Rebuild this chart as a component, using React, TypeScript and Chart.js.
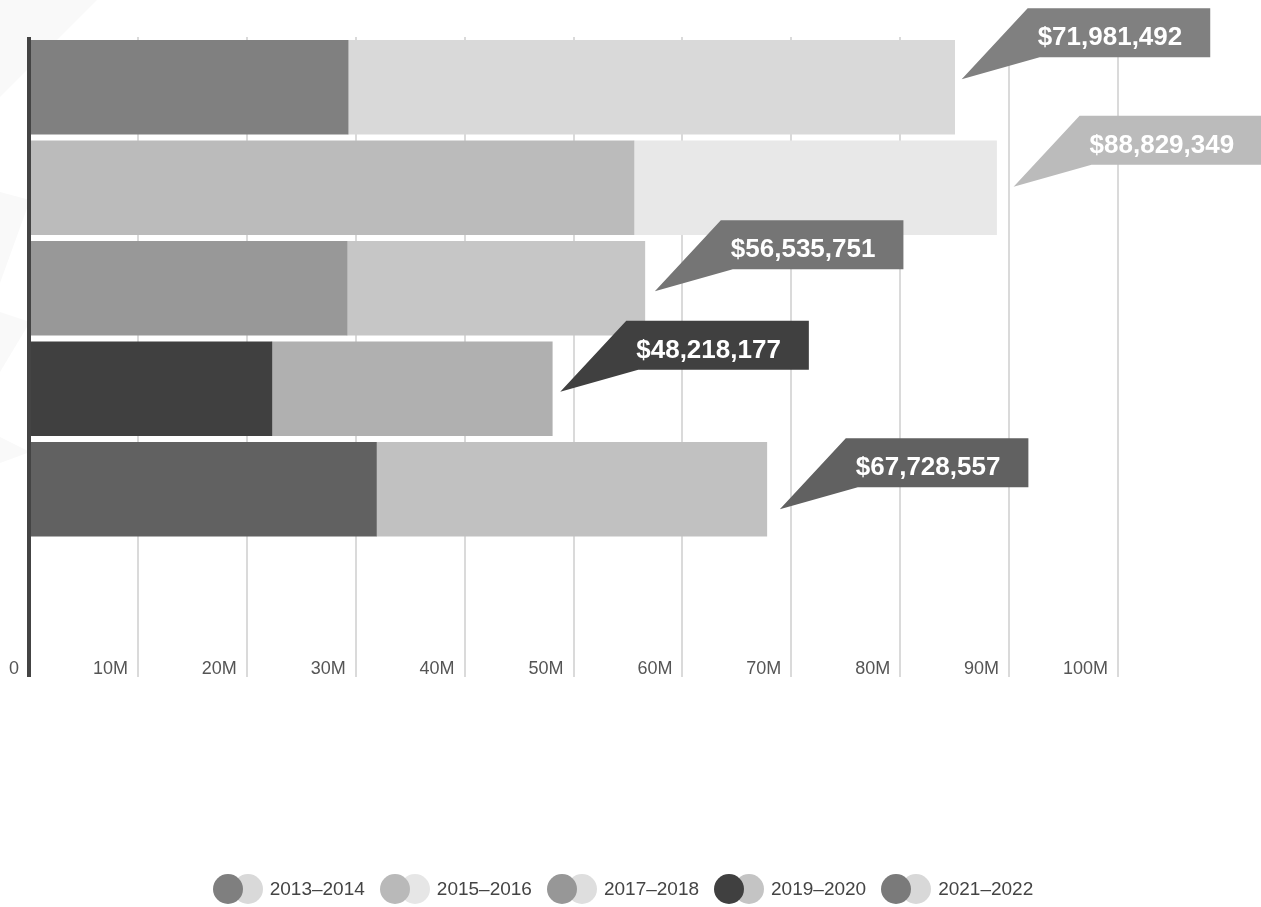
import React, { useEffect, useRef } from 'react';
import { Chart, registerables } from 'chart.js';

Chart.register(...registerables);

// ---------- data ----------
const rowLabels = ['2013–2014', '2015–2016', '2017–2018', '2019–2020', '2021–2022'];
const firstSegment = [29.3e6, 55.55e6, 29.2e6, 22.3e6, 31.9e6];
const secondSegment = [55.7e6, 33.3e6, 27.35e6, 25.75e6, 35.85e6];
const calloutLabels = ['$71,981,492', '$88,829,349', '$56,535,751', '$48,218,177', '$67,728,557'];
const xTickValues = [0, 10e6, 20e6, 30e6, 40e6, 50e6, 60e6, 70e6, 80e6, 90e6, 100e6];
const xTickLabels = ['0', '10M', '20M', '30M', '40M', '50M', '60M', '70M', '80M', '90M', '100M'];

// ---------- styles ----------
const firstColors = ['#808080', '#bbbbbb', '#989898', '#404040', '#616161'];
const secondColors = ['#d9d9d9', '#e8e8e8', '#c6c6c6', '#b0b0b0', '#c1c1c1'];
const calloutColors = ['#808080', '#bbbbbb', '#757575', '#404040', '#616161'];
const legendDark = ['#7f7f7f', '#b9b9b9', '#979797', '#404040', '#7a7a7a'];
const legendLight = ['#d9d9d9', '#e6e6e6', '#dedede', '#c4c4c4', '#d8d8d8'];
const calloutNudge = [[7, -8], [17, -1], [10, 3], [8, 3], [13, 20]];

const FONT = '"Liberation Sans", Arial, Helvetica, sans-serif';

const decorPlugin = {
  id: 'decor',
  beforeDraw(chart: any) {
    const ctx = chart.ctx;
    ctx.save();
    ctx.fillStyle = '#f9f9f9';
    const polys = [
      [[0, 0], [97, 0], [0, 97]],
      [[0, 192], [30, 200], [0, 283]],
      [[0, 312], [30, 322], [0, 372]],
      [[0, 437], [30, 452], [0, 463]],
    ];
    polys.forEach((p) => {
      ctx.beginPath();
      ctx.moveTo(p[0][0], p[0][1]);
      for (let i = 1; i < p.length; i++) ctx.lineTo(p[i][0], p[i][1]);
      ctx.closePath();
      ctx.fill();
    });
    ctx.restore();
  },
  beforeDatasetsDraw(chart: any) {
    const ctx = chart.ctx;
    const xs = chart.scales.x;
    const { top, bottom } = chart.chartArea;
    ctx.save();
    ctx.strokeStyle = '#dadada';
    ctx.lineWidth = 2;
    xTickValues.forEach((v, i) => {
      if (i === 0) return;
      const px = Math.round(xs.getPixelForValue(v));
      ctx.beginPath();
      ctx.moveTo(px, top);
      ctx.lineTo(px, bottom);
      ctx.stroke();
    });
    ctx.restore();
  },
  afterDatasetsDraw(chart: any) {
    const ctx = chart.ctx;
    const xs = chart.scales.x;
    const { top, bottom } = chart.chartArea;
    ctx.save();
    // axis line
    const x0 = xs.getPixelForValue(0);
    ctx.fillStyle = '#444444';
    ctx.fillRect(x0 - 2, top, 4, bottom - top);
    // tick labels
    ctx.font = `18px ${FONT}`;
    ctx.fillStyle = '#555555';
    ctx.textAlign = 'right';
    ctx.textBaseline = 'alphabetic';
    xTickValues.forEach((v, i) => {
      const px = xs.getPixelForValue(v);
      ctx.fillText(xTickLabels[i], px - 10, bottom - 3);
    });
    // callouts
    const meta = chart.getDatasetMeta(1);
    ctx.font = `bold 26px ${FONT}`;
    ctx.textAlign = 'left';
    meta.data.forEach((el: any, i: number) => {
      const tx = el.x + calloutNudge[i][0];
      const ty = el.y + calloutNudge[i][1];
      const tw = ctx.measureText(calloutLabels[i]).width;
      const bx = tx + 66;
      const by = ty - 71;
      const h = 49;
      const w = tw + 38;
      ctx.fillStyle = calloutColors[i];
      ctx.beginPath();
      ctx.moveTo(bx, by);
      ctx.lineTo(bx + w, by);
      ctx.lineTo(bx + w, by + h);
      ctx.lineTo(tx + 78, by + h);
      ctx.lineTo(tx, ty);
      ctx.closePath();
      ctx.fill();
      ctx.fillStyle = '#ffffff';
      ctx.fillText(calloutLabels[i], bx + 10, by + 37);
    });
    ctx.restore();
  },
};

export default function App() {
  const canvasRef = useRef<HTMLCanvasElement | null>(null);

  useEffect(() => {
    if (!canvasRef.current) return;
    const idx = rowLabels.map((_, i) => i);
    const chart = new Chart(canvasRef.current, {
      type: 'bar',
      data: {
        datasets: [
          {
            label: 'first',
            data: idx.map((i) => ({ x: firstSegment[i], y: i })),
            backgroundColor: firstColors,
            borderWidth: 0,
            barThickness: 94,
          },
          {
            label: 'second',
            data: idx.map((i) => ({ x: secondSegment[i], y: i })),
            backgroundColor: secondColors,
            borderWidth: 0,
            barThickness: 94,
          },
        ],
      },
      options: {
        indexAxis: 'y',
        responsive: false,
        animation: false,
        events: [],
        layout: { padding: { left: 29, right: 143, top: 37, bottom: 230 } },
        plugins: { legend: { display: false }, tooltip: { enabled: false } },
        scales: {
          x: { type: 'linear', stacked: true, min: 0, max: 100e6, display: false, offset: false },
          y: {
            type: 'linear', stacked: true, min: -0.5, max: 5.868, reverse: true,
            display: false, offset: false, grid: { offset: false },
          },
        },
      },
      plugins: [decorPlugin],
    } as any);
    return () => chart.destroy();
  }, []);

  return (
    <div style={{ position: 'absolute', left: 0, top: 0, width: 1261, height: 907, background: '#fff' }}>
      <canvas ref={canvasRef} width={1261} height={907} style={{ display: 'block' }} />
      <div
        style={{
          position: 'absolute',
          left: 0,
          top: 874,
          width: 1246,
          display: 'flex',
          justifyContent: 'center',
          gap: 15,
          fontFamily: FONT,
          fontSize: 19,
          color: '#444',
        }}
      >
        {rowLabels.map((lab, i) => (
          <div key={lab} style={{ display: 'flex', alignItems: 'center', height: 30 }}>
            <span style={{ position: 'relative', width: 50, height: 30, display: 'inline-block' }}>
              <span
                style={{
                  position: 'absolute', left: 20, top: 0, width: 30, height: 30,
                  borderRadius: '50%', background: legendLight[i],
                }}
              />
              <span
                style={{
                  position: 'absolute', left: 0, top: 0, width: 30, height: 30,
                  borderRadius: '50%', background: legendDark[i],
                }}
              />
            </span>
            <span style={{ marginLeft: 7, lineHeight: '30px' }}>{lab}</span>
          </div>
        ))}
      </div>
    </div>
  );
}
